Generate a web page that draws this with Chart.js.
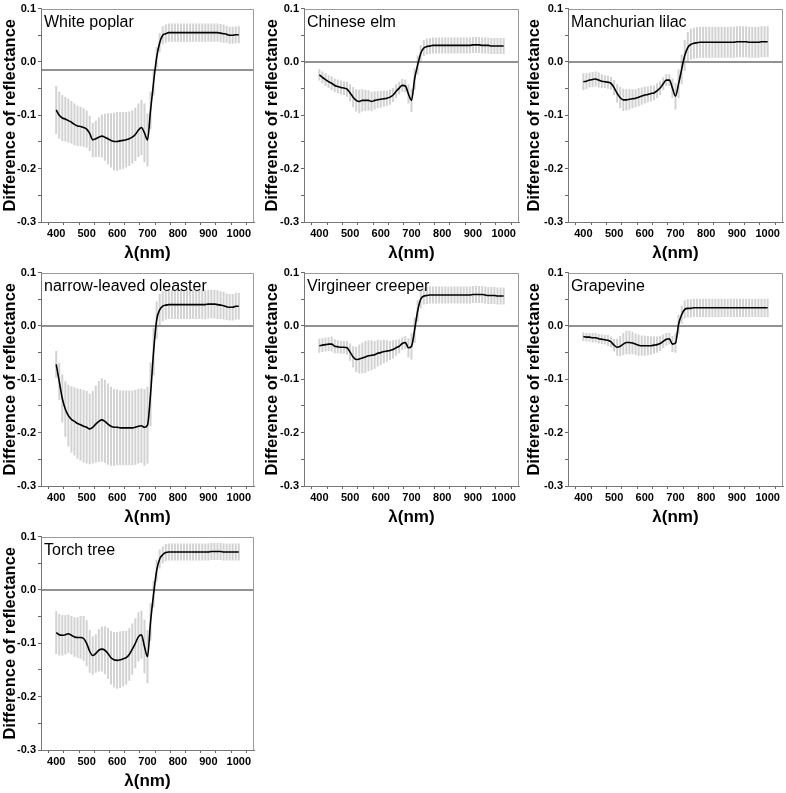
<!DOCTYPE html>
<html>
<head>
<meta charset="utf-8">
<script src="https://cdn.jsdelivr.net/npm/chart.js@4.4.1/dist/chart.umd.min.js"></script>
<style>
  html, body { margin: 0; padding: 0; background: #fff; }
  #wrap { position: relative; width: 786px; height: 793px; }
  canvas { position: absolute; }
</style>
</head>
<body>
<div id="wrap"></div>
<script>
const wavelengths = [
  400, 410, 420, 430, 440, 450, 460, 470, 480, 490,
  500, 510, 520, 530, 540, 550, 560, 570, 580, 590,
  600, 610, 620, 630, 640, 650, 660, 670, 680, 690,
  700, 710, 720, 730, 740, 750, 760, 770, 780, 790,
  800, 810, 820, 830, 840, 850, 860, 870, 880, 890,
  900, 910, 920, 930, 940, 950, 960, 970, 980, 990,
  1000
];

const whitePoplarMean = [
  -0.090, -0.100, -0.105, -0.107, -0.110, -0.113, -0.117, -0.120, -0.121, -0.123,
  -0.126, -0.134, -0.146, -0.144, -0.141, -0.139, -0.141, -0.144, -0.147, -0.149,
  -0.149, -0.148, -0.147, -0.146, -0.144, -0.141, -0.136, -0.128, -0.123, -0.133,
  -0.146, -0.091, -0.038, 0.008, 0.036, 0.050, 0.053, 0.055, 0.055, 0.055,
  0.055, 0.055, 0.055, 0.055, 0.055, 0.055, 0.055, 0.055, 0.055, 0.055,
  0.055, 0.055, 0.055, 0.055, 0.054, 0.053, 0.052, 0.050, 0.050, 0.051,
  0.051
];
const whitePoplarSd = [
  0.045, 0.044, 0.043, 0.042, 0.041, 0.040, 0.039, 0.038, 0.037, 0.036,
  0.035, 0.033, 0.032, 0.034, 0.037, 0.040, 0.044, 0.048, 0.051, 0.054,
  0.055, 0.054, 0.053, 0.052, 0.051, 0.050, 0.050, 0.050, 0.052, 0.055,
  0.050, 0.035, 0.025, 0.020, 0.018, 0.017, 0.017, 0.017, 0.017, 0.017,
  0.017, 0.017, 0.017, 0.017, 0.017, 0.017, 0.017, 0.017, 0.017, 0.017,
  0.017, 0.017, 0.017, 0.017, 0.017, 0.017, 0.016, 0.016, 0.016, 0.016,
  0.016
];

const chineseElmMean = [
  -0.024, -0.029, -0.033, -0.037, -0.040, -0.044, -0.046, -0.048, -0.049, -0.051,
  -0.058, -0.066, -0.072, -0.074, -0.072, -0.072, -0.072, -0.074, -0.072, -0.071,
  -0.070, -0.069, -0.068, -0.066, -0.062, -0.055, -0.049, -0.044, -0.045, -0.060,
  -0.072, -0.032, -0.006, 0.016, 0.026, 0.029, 0.030, 0.031, 0.031, 0.031,
  0.031, 0.031, 0.031, 0.031, 0.031, 0.031, 0.031, 0.031, 0.031, 0.031,
  0.032, 0.032, 0.032, 0.031, 0.031, 0.031, 0.030, 0.030, 0.030, 0.030,
  0.030
];
const chineseElmSd = [
  0.011, 0.011, 0.012, 0.012, 0.013, 0.013, 0.013, 0.013, 0.013, 0.014,
  0.016, 0.019, 0.021, 0.022, 0.021, 0.020, 0.019, 0.018, 0.017, 0.016,
  0.016, 0.015, 0.014, 0.014, 0.013, 0.013, 0.012, 0.012, 0.012, 0.018,
  0.022, 0.020, 0.018, 0.016, 0.015, 0.015, 0.015, 0.015, 0.015, 0.015,
  0.015, 0.015, 0.015, 0.015, 0.015, 0.015, 0.015, 0.015, 0.015, 0.015,
  0.015, 0.015, 0.015, 0.015, 0.015, 0.015, 0.015, 0.015, 0.015, 0.015,
  0.015
];

const lilacMean = [
  -0.037, -0.036, -0.034, -0.033, -0.032, -0.034, -0.036, -0.037, -0.038, -0.040,
  -0.048, -0.059, -0.067, -0.071, -0.071, -0.070, -0.069, -0.068, -0.066, -0.064,
  -0.062, -0.061, -0.059, -0.058, -0.054, -0.049, -0.041, -0.034, -0.034, -0.049,
  -0.064, -0.041, -0.014, 0.012, 0.027, 0.033, 0.035, 0.036, 0.037, 0.037,
  0.037, 0.037, 0.037, 0.037, 0.037, 0.037, 0.037, 0.037, 0.037, 0.037,
  0.038, 0.038, 0.038, 0.038, 0.037, 0.037, 0.037, 0.037, 0.038, 0.038,
  0.038
];
const lilacSd = [
  0.016, 0.015, 0.014, 0.014, 0.014, 0.014, 0.013, 0.012, 0.012, 0.012,
  0.014, 0.017, 0.020, 0.021, 0.020, 0.019, 0.018, 0.017, 0.017, 0.016,
  0.016, 0.015, 0.015, 0.014, 0.014, 0.013, 0.012, 0.011, 0.011, 0.018,
  0.025, 0.027, 0.028, 0.029, 0.029, 0.029, 0.029, 0.029, 0.029, 0.029,
  0.029, 0.029, 0.029, 0.029, 0.029, 0.029, 0.029, 0.029, 0.029, 0.029,
  0.029, 0.029, 0.029, 0.029, 0.029, 0.029, 0.029, 0.029, 0.029, 0.029,
  0.029
];

const oleasterMean = [
  -0.072, -0.104, -0.136, -0.156, -0.168, -0.175, -0.179, -0.183, -0.185, -0.188,
  -0.190, -0.193, -0.190, -0.184, -0.179, -0.176, -0.179, -0.184, -0.188, -0.190,
  -0.190, -0.191, -0.191, -0.191, -0.191, -0.191, -0.190, -0.188, -0.187, -0.190,
  -0.186, -0.128, -0.048, 0.011, 0.030, 0.037, 0.039, 0.040, 0.040, 0.040,
  0.040, 0.040, 0.040, 0.040, 0.040, 0.040, 0.040, 0.040, 0.040, 0.040,
  0.041, 0.041, 0.041, 0.040, 0.039, 0.038, 0.036, 0.035, 0.035, 0.037,
  0.037
];
const oleasterSd = [
  0.025, 0.035, 0.045, 0.052, 0.058, 0.062, 0.064, 0.066, 0.067, 0.068,
  0.068, 0.066, 0.068, 0.072, 0.076, 0.078, 0.078, 0.076, 0.074, 0.072,
  0.071, 0.070, 0.070, 0.070, 0.070, 0.070, 0.070, 0.070, 0.070, 0.072,
  0.072, 0.060, 0.045, 0.035, 0.030, 0.028, 0.027, 0.027, 0.027, 0.027,
  0.027, 0.027, 0.027, 0.027, 0.027, 0.027, 0.027, 0.027, 0.027, 0.027,
  0.027, 0.027, 0.027, 0.027, 0.026, 0.026, 0.025, 0.025, 0.025, 0.025,
  0.025
];

const creeperMean = [
  -0.037, -0.036, -0.035, -0.034, -0.034, -0.038, -0.039, -0.040, -0.040, -0.041,
  -0.049, -0.058, -0.063, -0.062, -0.060, -0.058, -0.056, -0.055, -0.054, -0.051,
  -0.050, -0.048, -0.047, -0.046, -0.044, -0.041, -0.038, -0.033, -0.031, -0.041,
  -0.038, -0.008, 0.028, 0.050, 0.056, 0.057, 0.058, 0.058, 0.058, 0.058,
  0.058, 0.058, 0.058, 0.058, 0.058, 0.058, 0.058, 0.058, 0.058, 0.058,
  0.059, 0.059, 0.059, 0.059, 0.058, 0.057, 0.057, 0.057, 0.056, 0.056,
  0.056
];
const creeperSd = [
  0.013, 0.013, 0.013, 0.013, 0.014, 0.013, 0.012, 0.012, 0.012, 0.013,
  0.016, 0.020, 0.024, 0.027, 0.029, 0.030, 0.029, 0.028, 0.026, 0.025,
  0.023, 0.022, 0.020, 0.018, 0.017, 0.015, 0.013, 0.012, 0.012, 0.018,
  0.025, 0.024, 0.020, 0.017, 0.016, 0.016, 0.016, 0.016, 0.016, 0.016,
  0.016, 0.016, 0.016, 0.016, 0.016, 0.016, 0.016, 0.016, 0.016, 0.016,
  0.016, 0.016, 0.016, 0.016, 0.016, 0.016, 0.016, 0.016, 0.016, 0.016,
  0.016
];

const grapevineMean = [
  -0.020, -0.021, -0.021, -0.022, -0.022, -0.024, -0.025, -0.026, -0.027, -0.030,
  -0.036, -0.040, -0.038, -0.034, -0.031, -0.031, -0.032, -0.034, -0.036, -0.037,
  -0.037, -0.037, -0.037, -0.036, -0.035, -0.033, -0.029, -0.025, -0.024, -0.034,
  -0.032, 0.003, 0.021, 0.031, 0.033, 0.033, 0.034, 0.034, 0.034, 0.034,
  0.034, 0.034, 0.034, 0.034, 0.034, 0.034, 0.034, 0.034, 0.034, 0.034,
  0.034, 0.034, 0.034, 0.034, 0.034, 0.034, 0.034, 0.034, 0.034, 0.034,
  0.034
];
const grapevineSd = [
  0.008, 0.008, 0.008, 0.009, 0.009, 0.009, 0.009, 0.009, 0.010, 0.010,
  0.012, 0.016, 0.019, 0.021, 0.022, 0.022, 0.021, 0.020, 0.020, 0.019,
  0.019, 0.018, 0.017, 0.016, 0.015, 0.014, 0.013, 0.012, 0.011, 0.015,
  0.018, 0.018, 0.017, 0.017, 0.017, 0.017, 0.017, 0.017, 0.017, 0.017,
  0.017, 0.017, 0.017, 0.017, 0.017, 0.017, 0.017, 0.017, 0.017, 0.017,
  0.017, 0.017, 0.017, 0.017, 0.017, 0.017, 0.017, 0.017, 0.017, 0.017,
  0.017
];

const torchTreeMean = [
  -0.080, -0.084, -0.085, -0.084, -0.082, -0.085, -0.088, -0.089, -0.089, -0.091,
  -0.100, -0.115, -0.123, -0.119, -0.113, -0.111, -0.113, -0.119, -0.127, -0.131,
  -0.132, -0.131, -0.129, -0.127, -0.121, -0.111, -0.100, -0.088, -0.084, -0.106,
  -0.125, -0.060, -0.008, 0.036, 0.058, 0.066, 0.070, 0.071, 0.071, 0.071,
  0.071, 0.071, 0.071, 0.071, 0.071, 0.071, 0.071, 0.071, 0.071, 0.071,
  0.071, 0.072, 0.072, 0.072, 0.072, 0.071, 0.071, 0.071, 0.071, 0.071,
  0.071
];
const torchTreeSd = [
  0.040, 0.039, 0.038, 0.037, 0.036, 0.036, 0.037, 0.038, 0.040, 0.042,
  0.043, 0.040, 0.036, 0.036, 0.040, 0.042, 0.045, 0.048, 0.050, 0.052,
  0.053, 0.053, 0.052, 0.050, 0.049, 0.048, 0.047, 0.046, 0.045, 0.050,
  0.050, 0.035, 0.025, 0.020, 0.018, 0.016, 0.016, 0.016, 0.016, 0.016,
  0.016, 0.016, 0.016, 0.016, 0.016, 0.016, 0.016, 0.016, 0.016, 0.016,
  0.016, 0.016, 0.016, 0.016, 0.016, 0.016, 0.016, 0.016, 0.016, 0.016,
  0.016
];

// level of the horizontal reference line in each panel
const zeroLevels = [-0.015, 0, 0, 0, 0, 0, 0];
const speciesNames = ['White poplar', 'Chinese elm', 'Manchurian lilac', 'narrow-leaved oleaster',
  'Virgineer creeper', 'Grapevine', 'Torch tree'];
const speciesMeans = [whitePoplarMean, chineseElmMean, lilacMean, oleasterMean, creeperMean, grapevineMean, torchTreeMean];
const speciesSds = [whitePoplarSd, chineseElmSd, lilacSd, oleasterSd, creeperSd, grapevineSd, torchTreeSd];

// grid layout
const colLeft = [0, 262, 524];
const rowTop = [0, 264, 528];
const axisWidth = [41, 42, 44];
const rightPad = [8, 5, 3];

const FONT = "'Liberation Sans', Arial, sans-serif";
const wrap = document.getElementById('wrap');

// frame around the plot + species label in the corner
const framePlugin = {
  id: 'frame',
  afterDraw(chart, args, opts) {
    const { ctx, chartArea: a } = chart;
    ctx.save();
    ctx.strokeStyle = '#9a9a9a';
    ctx.lineWidth = 1;
    ctx.beginPath();
    ctx.moveTo(Math.round(a.left) + 0.5, Math.round(a.top) + 0.5);
    ctx.lineTo(Math.round(a.right) - 0.5, Math.round(a.top) + 0.5);
    ctx.lineTo(Math.round(a.right) - 0.5, Math.round(a.bottom));
    ctx.stroke();
    ctx.fillStyle = '#000';
    ctx.font = '16px ' + FONT;
    ctx.textBaseline = 'alphabetic';
    ctx.fillText(opts.label, a.left + 3, a.top + 18);
    ctx.restore();
  }
};

function tickLabelY(v) {
  const t = v * 10;
  if (Math.abs(Math.round(t) - t) > 1e-6) return '';
  return (Math.round(t) / 10).toFixed(1);
}

function tickLabelX(v) {
  if (v % 100 !== 0 || v < 400 || v > 1000) return '';
  return String(v);
}

speciesNames.forEach((name, k) => {
  const col = k % 3;
  const row = Math.floor(k / 3);
  const mean = speciesMeans[k];
  const sd = speciesSds[k];

  const canvas = document.createElement('canvas');
  canvas.width = 262;
  canvas.height = 264;
  canvas.style.left = colLeft[col] + 'px';
  canvas.style.top = rowTop[row] + 'px';
  wrap.appendChild(canvas);

  const errorBars = wavelengths.map((w, i) => ({ x: w, y: [mean[i] - sd[i], mean[i] + sd[i]] }));
  const meanLine = wavelengths.map((w, i) => ({ x: w, y: mean[i] }));
  const zeroLine = [{ x: 350, y: zeroLevels[k] }, { x: 1050, y: zeroLevels[k] }];

  new Chart(canvas, {
    type: 'line',
    data: {
      datasets: [
        { type: 'bar', data: errorBars, backgroundColor: '#d2d2d2', barThickness: 2, inflateAmount: 0, order: 3 },
        { data: zeroLine, borderColor: '#6e6e6e', borderWidth: 1.5, pointRadius: 0, order: 2 },
        { data: meanLine, borderColor: '#000', borderWidth: 1.6, pointRadius: 0,
          cubicInterpolationMode: 'monotone', order: 1 }
      ]
    },
    options: {
      responsive: false,
      animation: false,
      events: [],
      layout: { padding: { top: 7, right: rightPad[col], left: 0, bottom: 0 } },
      plugins: {
        legend: { display: false },
        tooltip: { enabled: false },
        frame: { label: name }
      },
      scales: {
        x: {
          type: 'linear',
          min: 350,
          max: 1050,
          offset: false,
          afterFit(scale) { scale.height = 42; },
          grid: { drawOnChartArea: false, tickLength: 3, color: '#666' },
          border: { color: '#777', width: 1 },
          ticks: { stepSize: 50, autoSkip: false, maxRotation: 0, padding: 2, color: '#000',
            font: { family: FONT, size: 11, weight: 'bold' }, callback: tickLabelX },
          title: { display: true, text: 'λ(nm)', color: '#000', padding: { top: 0, bottom: 0 },
            font: { family: FONT, size: 17, weight: 'bold' } }
        },
        y: {
          min: -0.3,
          max: 0.1,
          afterFit(scale) { scale.width = axisWidth[col]; },
          grid: { drawOnChartArea: false, tickLength: 3, color: '#666' },
          border: { color: '#777', width: 1 },
          ticks: { stepSize: 0.05, autoSkip: false, padding: 2, color: '#000',
            font: { family: FONT, size: 11, weight: 'bold' }, callback: tickLabelY },
          title: { display: true, text: 'Difference of reflectance', color: '#000', padding: { top: 1, bottom: 0 },
            font: { family: FONT, size: 16.5, weight: 'bold' } }
        }
      }
    },
    plugins: [framePlugin]
  });
});
</script>
</body>
</html>
